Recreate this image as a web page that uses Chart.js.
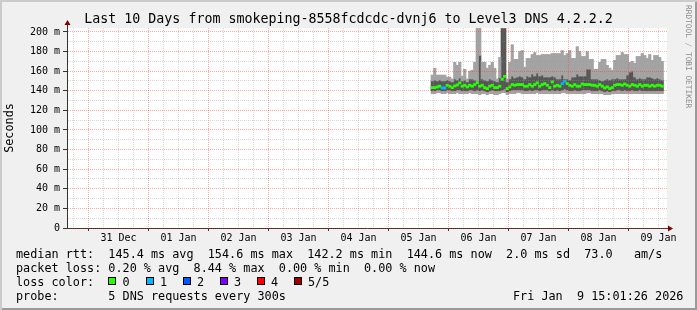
<!DOCTYPE html>
<html>
<head>
<meta charset="utf-8">
<script src="https://cdn.jsdelivr.net/npm/chart.js@4/dist/chart.umd.min.js"></script>
<style>
html, body { margin:0; padding:0; background:#fff; }
#frame {
  position:relative; width:697px; height:310px; overflow:hidden;
  background:#f0f0f0;
  box-shadow: inset 2px 2px 0 #cbcbcb, inset -2px -2px 0 #9a9a9a;
  font-family:'DejaVu Sans Mono', monospace; color:#000;
}
#chart { position:absolute; left:0; top:0; }
.txt { position:absolute; white-space:pre; font-size:11.8px; line-height:14px; }
#title { position:absolute; left:0; top:11px; width:697px; text-align:center; font-size:13.3px; line-height:16px; white-space:pre; }
#mark { position:absolute; left:684px; top:5px; writing-mode:vertical-rl; font-size:7.8px; line-height:9px; color:#8c8c8c; white-space:pre; }
.box { position:absolute; width:6px; height:6px; border:1px solid #000; }
</style>
</head>
<body>
<div id="frame">
  <canvas id="chart" width="697" height="310"></canvas>
  <div id="title">Last 10 Days from smokeping-8558fcdcdc-dvnj6 to Level3 DNS 4.2.2.2</div>
  <div id="mark">RRDTOOL / TOBI OETIKER</div>
  <div class="txt" style="left:16px;top:247px">median rtt:  145.4 ms avg  154.6 ms max  142.2 ms min  144.6 ms now  2.0 ms sd  73.0   am/s</div>
  <div class="txt" style="left:16px;top:261px">packet loss: 0.20 % avg  8.44 % max  0.00 % min  0.00 % now</div>
  <div class="txt" style="left:16px;top:275px">loss color:</div>
  <div id="lossrow"></div>
  <div class="txt" style="left:16px;top:289px">probe:       5 DNS requests every 300s</div>
  <div class="txt" style="left:513px;top:289px">Fri Jan  9 15:01:26 2026</div>
</div>
<script>
// hours are counted from 31 Dec 00:00; one value per hour, first hour starts at 137
const FIRST_HOUR = 137;

// max ping
const HI = [
  156,163,156,156,156,156,154,154,152,169,
  166,169,155,162,152,160,161,169,204,204,
  169,169,163,166,169,163,152,174,204,204,
  152,169,187,172,172,180,181,164,173,173,
  177,179,176,176,177,177,177,177,178,178,
  178,178,181,176,178,181,173,173,185,180,
  175,175,180,172,172,162,162,169,172,172,
  166,163,161,171,176,176,179,177,177,169,
  170,168,175,175,178,176,173,177,171,176,
  176,174,170
];
// upper edge of the dark smoke
const Q3 = [
  150,151,150,151,150,150,151,150,149,152,
  151,153,150,151,149,152,152,151,150,176,
  152,151,150,152,151,150,149,153,204,204,
  149,152,155,153,154,155,154,152,155,154,
  157,155,158,155,156,154,154,154,155,154,
  152,152,156,152,152,151,154,154,157,155,
  155,155,162,162,152,152,152,151,150,151,
  152,151,152,152,153,152,152,152,156,159,
  160,154,152,153,152,152,154,154,153,152,
  153,152,151
];
// median rtt
const MED = [
  143.2,143.2,143.9,144.6,142.9,142.9,145.6,144.6,143.2,144.9,
  145.9,148.0,144.6,145.6,143.9,145.6,144.6,146.3,148.3,144.6,
  145.6,143.2,142.2,144.6,145.6,143.2,143.2,144.6,151.7,154.6,
  142.2,143.9,146.3,145.6,146.3,146.3,146.3,144.6,144.6,146.3,
  144.6,146.3,148.0,144.6,146.3,147.3,145.6,143.2,149.0,144.6,
  145.6,144.6,147.3,149.7,147.3,145.6,144.6,146.3,144.6,144.6,
  146.9,146.3,146.3,146.3,145.6,145.6,144.6,146.3,144.6,142.9,
  143.9,142.2,143.2,145.6,146.3,146.3,145.6,146.9,145.6,144.6,
  146.3,145.6,144.6,146.3,144.6,145.6,145.6,144.6,145.6,144.6,
  145.6,145.6,144.6
];
// lower edge of the dark smoke
const Q1 = [
  140,140,141,141,140,140,141,141,140,140,
  141,141,140,140,140,141,141,140,141,140,
  141,140,139,140,141,140,140,140,141,142,
  139,140,141,141,141,141,141,140,140,141,
  140,141,141,140,141,141,141,140,141,140,
  141,140,141,142,141,140,140,141,140,140,
  141,141,141,141,140,140,140,141,140,139,
  140,139,140,140,141,141,140,141,140,140,
  141,140,140,141,140,140,140,140,140,140,
  140,140,140
];
// min ping
const LO = [
  137,137,138,138,137,137,138,137,137,137,
  138,137,137,137,137,138,137,137,137,136,
  137,137,136,137,137,136,136,137,138,138,
  136,137,137,137,138,138,137,137,137,137,
  137,137,138,137,137,137,137,137,137,137,
  137,137,138,138,137,137,137,137,137,137,
  137,137,138,138,137,137,137,137,137,136,
  136,136,137,137,137,137,137,137,137,137,
  137,137,137,137,137,137,137,137,137,137,
  137,137,137
];
// lost pings per hour (of 5)
const LOSS = [
  0,0,0,0,1,1,0,0,0,0, 0,0,0,0,0,0,0,0,0,0,
  0,0,0,0,0,0,0,0,0,0, 0,0,0,0,0,0,0,0,0,0,
  0,0,0,0,0,0,0,0,0,0, 0,0,1,1,0,0,0,0,0,0,
  0,0,0,0,0,0,0,0,0,0, 0,0,0,0,0,0,0,0,0,0,
  0,0,0,0,0,0,0,0,0,0, 0,0,0
];

const LOSS_LABELS = ['0', '1', '2', '3', '4', '5/5'];
const LOSS_COLORS = ['#26ff00', '#00b8ff', '#0059ff', '#7e00ff', '#ff0000', '#a10000'];
const DAY_LABELS = ['31 Dec','01 Jan','02 Jan','03 Jan','04 Jan','05 Jan','06 Jan','07 Jan','08 Jan','09 Jan'];
const X_TICKS = [-6,0,6,12,18,24,30,36,42,48,54,60,66,72,78,84,90,96,102,108,114,120,126,132,138,144,150,156,162,168,174,180,186,192,198,204,210,216,222,228];
const Y_TICKS = [0,10,20,30,40,50,60,70,80,90,100,110,120,130,140,150,160,170,180,190,200];
const X_MIN = -8.6, X_MAX = 231.4, Y_MAX = 204;

const FONT = 'DejaVu Sans Mono';
const SMOKE_LIGHT = '#a3a3a3', SMOKE_DARK = '#565656';
const MINOR = 'rgba(150,150,150,0.38)', MAJOR = 'rgba(255,40,40,0.4)';
const AXIS = '#333', ARROW = '#7f0000';
const MEDIAN_HALF = 1.1;

// loss colour legend row
const row = document.getElementById('lossrow');
const BOX_X = [108, 145.5, 182.5, 219.5, 256.5, 293.5];
LOSS_LABELS.forEach((lab, k) => {
  const b = document.createElement('div');
  b.className = 'box';
  b.style.left = BOX_X[k] + 'px'; b.style.top = '277px';
  b.style.background = LOSS_COLORS[k];
  row.appendChild(b);
  const t = document.createElement('div');
  t.className = 'txt';
  t.style.left = (BOX_X[k] + 14.5) + 'px'; t.style.top = '275px';
  t.textContent = lab;
  row.appendChild(t);
});

const HOURS = HI.map((_, i) => FIRST_HOUR + i + 0.5);
const band = (a, b) => HOURS.map((x, i) => ({x, y: [a[i], b[i]]}));
const barOpts = {grouped: false, barPercentage: 1, categoryPercentage: 1, borderWidth: 0};

const rrdFrame = {
  id: 'rrdFrame',
  beforeDraw(chart) {
    const {ctx, chartArea: a} = chart;
    ctx.save();
    ctx.fillStyle = '#fff';
    ctx.fillRect(a.left, a.top, a.right - a.left, a.bottom - a.top);
    ctx.restore();
  },
  afterDraw(chart) {
    const {ctx, chartArea: a} = chart;
    const yb = a.bottom + 0.5, xl = a.left + 0.5;
    ctx.save();
    ctx.strokeStyle = AXIS; ctx.lineWidth = 1;
    ctx.beginPath();
    ctx.moveTo(a.right, yb); ctx.lineTo(a.right + 2, yb);
    ctx.moveTo(xl, a.top); ctx.lineTo(xl, a.top - 3);
    ctx.stroke();
    ctx.fillStyle = ARROW;
    ctx.beginPath();
    ctx.moveTo(a.right + 1, yb - 3); ctx.lineTo(a.right + 6, yb); ctx.lineTo(a.right + 1, yb + 3);
    ctx.closePath(); ctx.fill();
    ctx.beginPath();
    ctx.moveTo(xl - 3, a.top - 3); ctx.lineTo(xl, a.top - 8); ctx.lineTo(xl + 3, a.top - 3);
    ctx.closePath(); ctx.fill();
    ctx.restore();
  }
};

new Chart(document.getElementById('chart'), {
  type: 'bar',
  data: {
    datasets: [
      {label: 'median', data: HOURS.map((x, i) => ({x, y: [MED[i] - MEDIAN_HALF, MED[i] + MEDIAN_HALF]})),
       backgroundColor: c => LOSS_COLORS[LOSS[c.dataIndex]], ...barOpts},
      {label: 'smoke upper', data: band(Q3, HI), backgroundColor: SMOKE_LIGHT, ...barOpts},
      {label: 'smoke core', data: band(Q1, Q3), backgroundColor: SMOKE_DARK, ...barOpts},
      {label: 'smoke lower', data: band(LO, Q1), backgroundColor: SMOKE_LIGHT, ...barOpts}
    ]
  },
  options: {
    responsive: false,
    animation: false,
    events: [],
    layout: {padding: {top: 28, right: 30, bottom: 0, left: 0}},
    plugins: {legend: {display: false}, tooltip: {enabled: false}, title: {display: false}},
    scales: {
      x: {
        type: 'linear', min: X_MIN, max: X_MAX, offset: false,
        afterBuildTicks: s => { s.ticks = X_TICKS.map(v => ({value: v})); },
        afterFit: s => { s.height = 82; },
        grid: {offset: false, z: 1, color: c => c.tick.value % 24 === 0 ? MAJOR : MINOR,
               tickColor: c => c.tick.value % 24 === 0 ? AXIS : 'rgba(0,0,0,0)', tickLength: 3, tickBorderDash: []},
        border: {color: AXIS, dash: [1, 1], z: 1},
        ticks: {autoSkip: false, maxRotation: 0, padding: 1, color: '#000', font: {family: FONT, size: 10},
                callback: v => DAY_LABELS[(v - 12) / 24] ?? ''}
      },
      y: {
        type: 'linear', min: 0, max: Y_MAX,
        afterBuildTicks: s => { s.ticks = Y_TICKS.map(v => ({value: v})); },
        afterFit: s => { s.width = 67; },
        grid: {z: 1, color: c => c.tick.value % 20 === 0 ? MAJOR : MINOR,
               tickColor: c => c.tick.value % 20 === 0 ? AXIS : 'rgba(0,0,0,0)', tickLength: 4, tickBorderDash: []},
        border: {color: AXIS, dash: [1, 1], z: 1},
        ticks: {autoSkip: false, padding: 3, color: '#000', font: {family: FONT, size: 10},
                callback: v => v % 20 ? '' : (v === 0 ? '0' : v + ' m')},
        title: {display: true, text: 'Seconds', color: '#000', font: {family: FONT, size: 11.8}, padding: {top: 3, bottom: 0}}
      }
    }
  },
  plugins: [rrdFrame]
});
</script>
</body>
</html>
